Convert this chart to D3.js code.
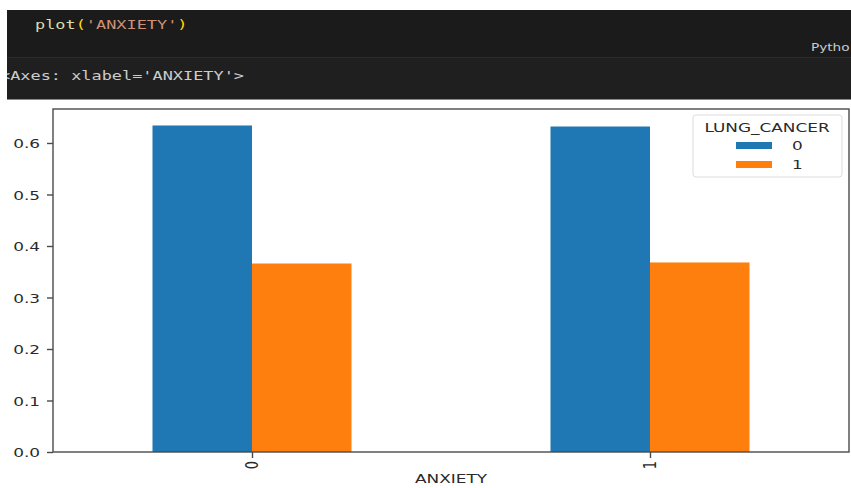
<!DOCTYPE html>
<html>
<head>
<meta charset="utf-8">
<script src="https://cdn.jsdelivr.net/npm/d3@7"></script>
<style>
  body { margin: 0; background: #fff; }
  svg { display: block; }
  text { font-family: "DejaVu Sans", sans-serif; }
  .mono { font-family: "DejaVu Sans Mono", monospace; font-size: 13px; }
</style>
</head>
<body>
<svg id="chart" width="851" height="488"></svg>
<script>
// values
const categories = ["0", "1"];
const seriesNames = ["0", "1"];
const lungCancer0 = [0.634, 0.632];
const lungCancer1 = [0.366, 0.368];
const yTicks = [0, 0.1, 0.2, 0.3, 0.4, 0.5, 0.6];
const colors = ["#1f77b4", "#ff7f0e"];

const sx = 1.3; // the screenshot is stretched sideways
const svg = d3.select("#chart");

// notebook cell header
svg.append("rect").attr("x", 7).attr("y", 10).attr("width", 844).attr("height", 47).attr("fill", "#1b1b1b");
svg.append("rect").attr("x", 7).attr("y", 57).attr("width", 844).attr("height", 42).attr("fill", "#1f1f1f");
svg.append("line").attr("x1", 7).attr("x2", 851).attr("y1", 57.5).attr("y2", 57.5).attr("stroke", "#2c2c2c");
svg.append("line").attr("x1", 7).attr("x2", 851).attr("y1", 99.5).attr("y2", 99.5).attr("stroke", "#8a8a8a");

const code = svg.append("text").attr("class", "mono")
    .attr("transform", `translate(35,29) scale(${sx},1)`);
code.append("tspan").attr("fill", "#dcdcaa").text("plot");
code.append("tspan").attr("fill", "#ffd700").text("(");
code.append("tspan").attr("fill", "#ce9178").text("'ANXIETY'");
code.append("tspan").attr("fill", "#ffd700").text(")");

// kernel name, cut off by the screenshot edge
svg.append("text").attr("transform", `translate(811,51) scale(${sx},1)`)
    .attr("fill", "#cccccc").attr("font-size", 10.5).text("Pytho");

svg.append("clipPath").attr("id", "outClip")
  .append("rect").attr("x", 7).attr("y", 57).attr("width", 844).attr("height", 42);
svg.append("g").attr("clip-path", "url(#outClip)")
  .append("text").attr("class", "mono")
    .attr("transform", `translate(0,80) scale(${sx},1)`)
    .attr("fill", "#cccccc").text("<Axes: xlabel='ANXIETY'>");

// axes
const axLeft = 53, axRight = 849, axTop = 109, axBottom = 452;
const x = d3.scaleLinear().domain([-0.5, 1.5]).range([axLeft, axRight]);
const y = d3.scaleLinear().domain([0, 0.666]).range([axBottom, axTop]);
const barW = 0.25;

const series = [lungCancer0, lungCancer1];
series.forEach((vals, s) => {
  svg.append("g").selectAll("rect")
    .data(vals)
    .enter()
    .append("rect")
    .attr("x", (d, i) => x(i - barW + s * barW))
    .attr("width", x(barW) - x(0))
    .attr("y", d => y(d))
    .attr("height", d => y(0) - y(d))
    .attr("fill", colors[s]);
});

// frame
svg.append("rect").attr("x", axLeft).attr("y", axTop)
    .attr("width", axRight - axLeft).attr("height", axBottom - axTop)
    .attr("fill", "none").attr("stroke", "#4a4a4a").attr("stroke-width", 1.4);

const yAxis = svg.append("g").attr("transform", `translate(${axLeft},0)`)
    .call(d3.axisLeft(y).tickValues(yTicks).tickFormat(d3.format(".1f")).tickSize(6).tickPadding(0));
yAxis.select(".domain").remove();
yAxis.selectAll("line").attr("stroke", "#4a4a4a").attr("stroke-width", 1.4);
yAxis.selectAll("text")
    .attr("x", -10).attr("dy", "0.36em")
    .attr("transform", `scale(${sx},1)`)
    .attr("font-size", 13).attr("fill", "#2a2a2a")
    .attr("font-family", "DejaVu Sans, sans-serif");

const xAxis = svg.append("g").attr("transform", `translate(0,${axBottom})`)
    .call(d3.axisBottom(x).tickValues(categories.map((c, i) => i)).tickFormat(i => categories[i]).tickSize(6));
xAxis.select(".domain").remove();
xAxis.selectAll("line").attr("stroke", "#4a4a4a").attr("stroke-width", 1.4);
xAxis.selectAll("text")
    .attr("x", 0).attr("y", 0).attr("dy", null)
    .attr("transform", `translate(0,9) rotate(-90) scale(1,${sx})`)
    .attr("text-anchor", "end")
    .attr("dominant-baseline", "central")
    .attr("font-size", 13).attr("fill", "#2a2a2a")
    .attr("font-family", "DejaVu Sans, sans-serif");

svg.append("text")
    .attr("transform", `translate(${(axLeft + axRight) / 2},483) scale(${sx},1)`)
    .attr("text-anchor", "middle").attr("font-size", 13).attr("fill", "#2a2a2a")
    .text("ANXIETY");

// legend
const lg = svg.append("g").attr("transform", "translate(693,115)");
lg.append("rect").attr("width", 149).attr("height", 62).attr("rx", 3)
    .attr("fill", "#fff").attr("stroke", "#dcdcdc");
lg.append("text").attr("transform", `translate(74,17) scale(${sx},1)`)
    .attr("text-anchor", "middle").attr("font-size", 13).attr("fill", "#2a2a2a")
    .text("LUNG_CANCER");
seriesNames.forEach((name, i) => {
  lg.append("rect").attr("x", 43).attr("y", 27 + i * 19).attr("width", 36).attr("height", 7)
      .attr("fill", colors[i]);
  lg.append("text").attr("transform", `translate(99,${35 + i * 19}) scale(${sx},1)`)
      .attr("font-size", 13).attr("fill", "#2a2a2a").text(name);
});
</script>
</body>
</html>
